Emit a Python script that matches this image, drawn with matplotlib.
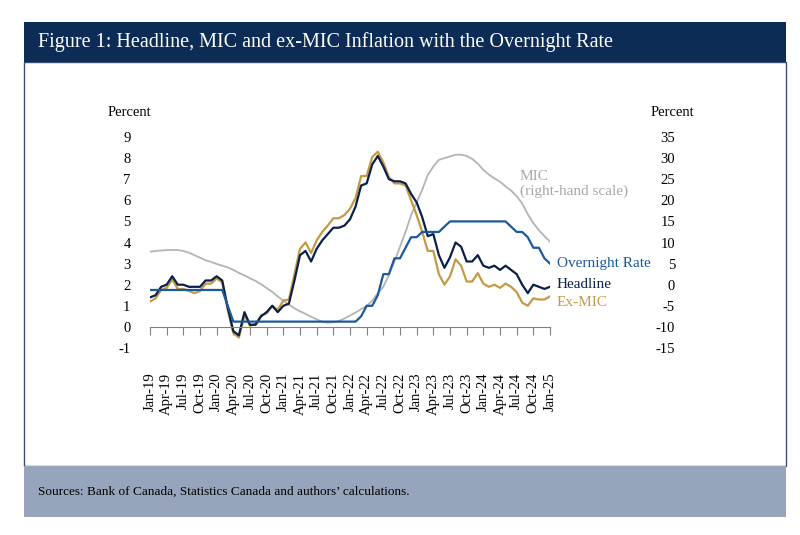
import numpy as np
import matplotlib
matplotlib.use('Agg')
import matplotlib.pyplot as plt
from matplotlib.patches import Rectangle

serif = ['Liberation Serif', 'DejaVu Serif']
plt.rcParams['font.family'] = serif

# monthly data, Jan-19 .. Jan-25
headline = [1.4, 1.5, 1.9, 2.0, 2.4, 2.0, 2.0, 1.9, 1.9, 1.9, 2.2, 2.2,
            2.4, 2.2, 0.9, -0.2, -0.4, 0.7, 0.1, 0.1, 0.5, 0.7, 1.0, 0.7,
            1.0, 1.1, 2.2, 3.4, 3.6, 3.1, 3.7, 4.1, 4.4, 4.7, 4.7, 4.8,
            5.1, 5.7, 6.7, 6.8, 7.7, 8.1, 7.6, 7.0, 6.9, 6.9, 6.8, 6.3,
            5.9, 5.2, 4.3, 4.4, 3.4, 2.8, 3.3, 4.0, 3.8, 3.1, 3.1, 3.4,
            2.9, 2.8, 2.9, 2.7, 2.9, 2.7, 2.5, 2.0, 1.6, 2.0, 1.9, 1.8,
            1.9]
ex_mic = [1.2, 1.35, 1.75, 1.85, 2.25, 1.8, 1.8, 1.7, 1.6, 1.7, 2.05, 2.05,
          2.3, 2.1, 0.8, -0.3, -0.5, 0.55, 0.05, 0.15, 0.55, 0.65, 1.0, 0.8,
          1.25, 1.3, 2.5, 3.7, 4.0, 3.5, 4.1, 4.5, 4.8, 5.15, 5.15, 5.3,
          5.6, 6.1, 7.15, 7.15, 8.05, 8.3, 7.8, 7.1, 6.8, 6.8, 6.7, 6.0,
          5.3, 4.5, 3.6, 3.6, 2.5, 2.0, 2.4, 3.2, 2.9, 2.15, 2.15, 2.55,
          2.05, 1.9, 2.0, 1.85, 2.05, 1.9, 1.65, 1.15, 1.0, 1.35, 1.3, 1.3,
          1.45]
overnight = [1.75] * 14 + [1.0] + [0.25] * 23 + \
            [0.5, 1.0, 1.0, 1.5, 2.5, 2.5, 3.25, 3.25, 3.75, 4.25,
             4.25, 4.5, 4.5, 4.5, 4.5, 4.75] + [5.0] * 11 + \
            [4.75, 4.5, 4.5, 4.25, 3.75, 3.75, 3.25, 3.0]
mic = [7.8, 8.0, 8.1, 8.2, 8.25, 8.2, 8.0, 7.6, 7.0, 6.4, 5.8, 5.4,
       4.9, 4.5, 4.1, 3.5, 2.8, 2.2, 1.5, 0.9, 0.1, -0.8, -1.7, -2.8,
       -3.8, -4.7, -5.6, -6.3, -6.9, -7.6, -8.2, -8.8, -9.0, -8.9, -8.6, -8.0,
       -7.3, -6.6, -5.8, -5.0, -3.8, -2.0, -0.5, 2.3, 5.5, 9.0, 12.5, 16.5,
       19.5, 22.5, 26.0, 28.0, 29.6, 30.0, 30.4, 30.8, 30.8, 30.5, 29.8, 28.7,
       27.2, 26.1, 25.2, 24.4, 23.3, 22.3, 21.0, 19.2, 16.7, 14.6, 12.9, 11.5,
       10.2]

tick_labels = ['Jan-19', 'Apr-19', 'Jul-19', 'Oct-19', 'Jan-20', 'Apr-20', 'Jul-20',
               'Oct-20', 'Jan-21', 'Apr-21', 'Jul-21', 'Oct-21', 'Jan-22', 'Apr-22',
               'Jul-22', 'Oct-22', 'Jan-23', 'Apr-23', 'Jul-23', 'Oct-23', 'Jan-24',
               'Apr-24', 'Jul-24', 'Oct-24', 'Jan-25']
left_ticks = list(range(-1, 10))
right_ticks = list(range(-15, 40, 5))

navy = '#0a1f4a'
gold = '#c49a45'
blue = '#1a5a9c'
grey = '#b4b4b4'

W, H = 800, 535
fig = plt.figure(figsize=(W / 100, H / 100), dpi=100)


def fx(px):
    return px / W


def fy(py):
    return 1 - py / H


# frame: header, panel, footer (kept behind the axes)
fig.patches.append(Rectangle((fx(24), fy(466)), fx(762), 404 / H, transform=fig.transFigure,
                             facecolor='white', edgecolor='#3b4f72', lw=1, zorder=-2))
fig.patches.append(Rectangle((fx(24), fy(62)), fx(762), 40 / H, transform=fig.transFigure,
                             facecolor='#0c2c55', edgecolor='none', zorder=-1))
fig.patches.append(Rectangle((fx(24), fy(517)), fx(762), 51 / H, transform=fig.transFigure,
                             facecolor='#97a5bc', edgecolor='none', zorder=-1))
fig.text(fx(38), fy(42), 'Figure 1: Headline, MIC and ex-MIC Inflation with the Overnight Rate',
         color='white', fontsize=14.5, va='center', ha='left')
fig.text(fx(38), fy(492), 'Sources: Bank of Canada, Statistics Canada and authors\u2019 calculations.',
         color='black', fontsize=9.5, va='center', ha='left')

ax = fig.add_axes([fx(150), fy(348), fx(400), 211 / H])
ax2 = ax.twinx()
ax.set_zorder(ax2.get_zorder() + 1)
ax.patch.set_visible(False)
ax2.patch.set_visible(False)

x = np.arange(len(headline))
ax2.plot(x, mic, color=grey, lw=1.3)
ax.plot(x, ex_mic, color=gold, lw=1.6)
ax.plot(x, headline, color=navy, lw=1.6)
ax.plot(x, overnight, color=blue, lw=1.6)

ax.set_xlim(0, len(headline) - 1)
ax.set_ylim(-1, 9)
ax2.set_ylim(-15, 35)

ax.tick_params(axis='x', direction='out', length=6, color='#808080', pad=27,
               labelrotation=90, labelsize=10.5)
ax.tick_params(axis='y', length=0, pad=14, labelsize=10.5)
ax2.tick_params(axis='y', length=0, pad=90, labelsize=10.5)

ax.set_xticks(np.arange(0, len(headline), 3), tick_labels)
ax.set_yticks(left_ticks, [str(v) for v in left_ticks])
ax2.set_yticks(right_ticks, [str(v) for v in right_ticks])
for t in ax.get_xticklabels():
    t.set_verticalalignment('top')
for t in ax2.get_yticklabels():
    t.set_horizontalalignment('right')

for a in (ax, ax2):
    for s in ('top', 'left', 'right'):
        a.spines[s].set_visible(False)
ax2.spines['bottom'].set_visible(False)
ax.spines['bottom'].set_position(('data', 0))
ax.spines['bottom'].set_color('#808080')

fig.text(fx(108), fy(112), 'Percent', fontsize=10.5, va='center', ha='left')
fig.text(fx(651), fy(112), 'Percent', fontsize=10.5, va='center', ha='left')

fig.text(fx(520), fy(177), 'MIC', color='#a8a8a8', fontsize=11, va='center', ha='left')
fig.text(fx(520), fy(191), '(right-hand scale)', color='#a8a8a8', fontsize=11, va='center', ha='left')
fig.text(fx(557), fy(264), 'Overnight Rate', color=blue, fontsize=11, va='center', ha='left')
fig.text(fx(557), fy(285), 'Headline', color=navy, fontsize=11, va='center', ha='left')
fig.text(fx(557), fy(302), 'Ex-MIC', color=gold, fontsize=11, va='center', ha='left')

fig.savefig('out.png', dpi=100)
